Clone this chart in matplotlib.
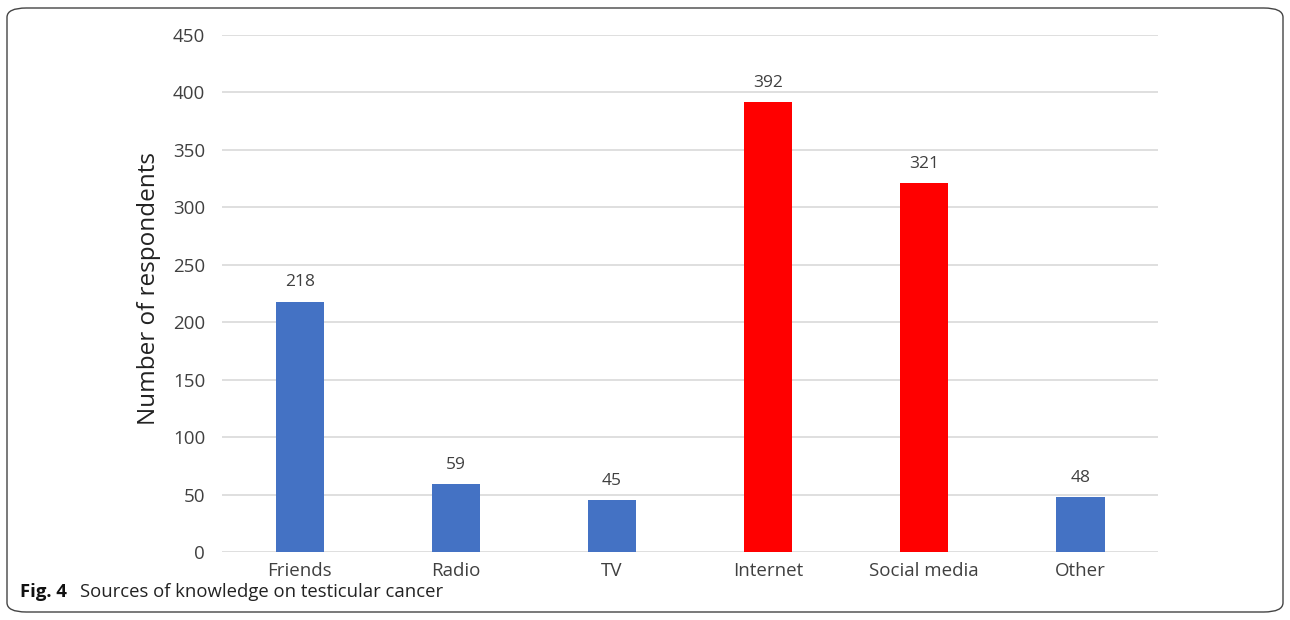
import matplotlib
matplotlib.use("Agg")
import matplotlib.pyplot as plt
from matplotlib.patches import FancyBboxPatch

categories = ["Friends", "Radio", "TV", "Internet", "Social media", "Other"]
values = [218, 59, 45, 392, 321, 48]
colors = ["#4472C4", "#4472C4", "#4472C4", "#FF0000", "#FF0000", "#4472C4"]
yticks = [0, 50, 100, 150, 200, 250, 300, 350, 400, 450]

plt.rcParams['font.family'] = ['Open Sans', 'DejaVu Sans']

fig = plt.figure(figsize=(12.9, 6.2), dpi=100)
ax = fig.add_axes([0.172, 0.1097, 0.726, 0.8338])

x = list(range(len(categories)))
bars = ax.bar(x, values, width=0.31, color=colors, zorder=3)
for xi, v in zip(x, values):
    ax.annotate(str(v), (xi, v), xytext=(0, 8), textcoords="offset points",
                ha="center", va="bottom", fontsize=12.5, color="#404040")

ax.set_xlim(-0.5, len(categories) - 0.5)
ax.set_ylim(0, 450)
ax.set_yticks(yticks)
ax.set_xticks(x)
ax.set_xticklabels(categories, fontsize=13.5, color="#404040")
ax.tick_params(axis="y", labelsize=13.5, labelcolor="#404040", length=0, pad=12)
ax.tick_params(axis="x", length=0, pad=7)
ax.grid(axis="y", color="#D9D9D9", linewidth=1.2, zorder=0)
for s in ax.spines.values():
    s.set_visible(False)
ax.set_ylabel("Number of respondents", fontsize=17.5, color="#222222")
ax.yaxis.set_label_coords(-0.065, 0.509)

box = FancyBboxPatch((7/1290, 8/620), 1276/1290, 604/620,
                     boxstyle="round,pad=0,rounding_size=0.015",
                     transform=fig.transFigure, fill=False,
                     edgecolor="#444444", linewidth=1.0)
fig.patches.append(box)

fig.text(20/1290, 1 - 597/620, "Fig. 4", fontsize=13.3, fontweight="bold",
         va="baseline", ha="left", color="#111111")
fig.text(80/1290, 1 - 597/620, "Sources of knowledge on testicular cancer",
         fontsize=13.3, va="baseline", ha="left", color="#222222")

fig.savefig("out.png", dpi=100)
